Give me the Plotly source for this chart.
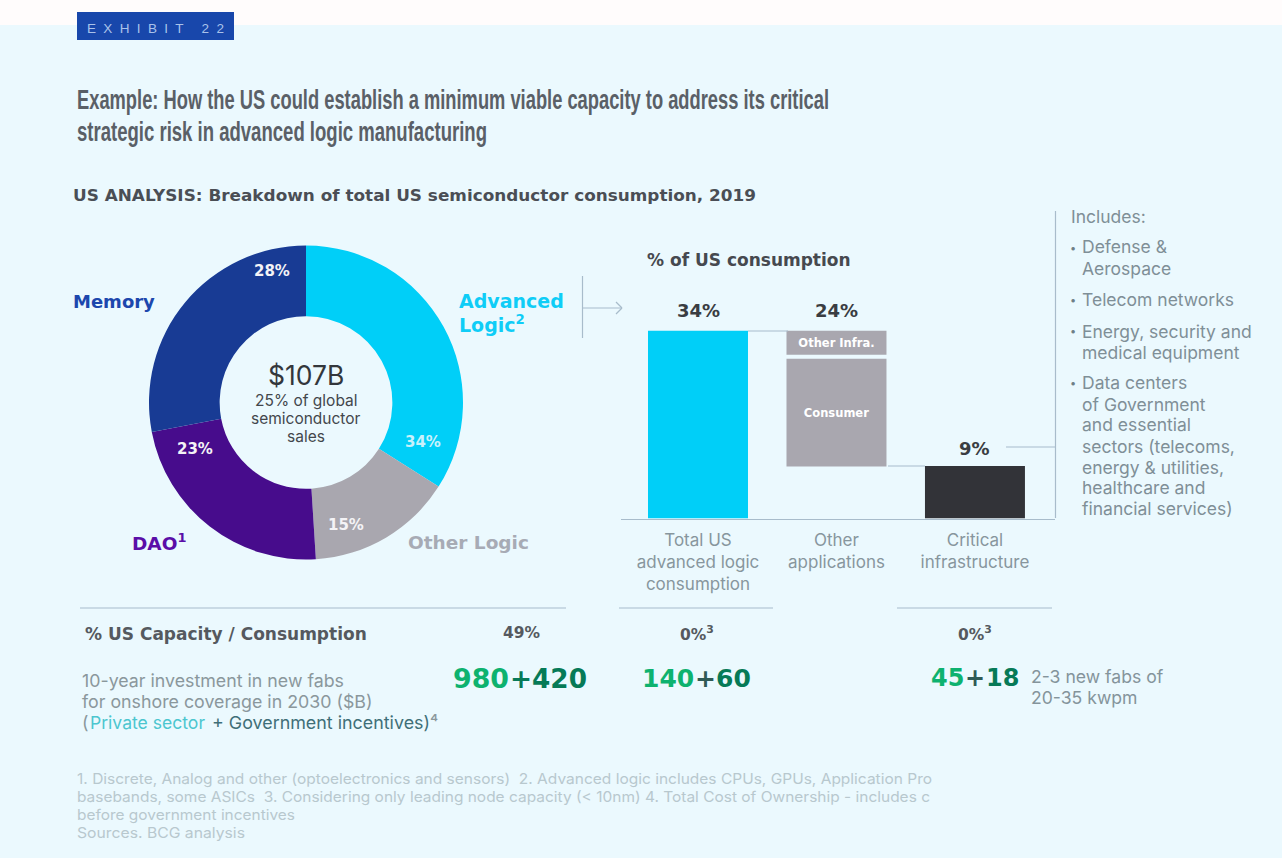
import html
import json
import plotly.graph_objects as go

W, H = 1282, 858
BG = "#ebf9fe"
SANS = "Inter"
BOLD = "DejaVu Sans"

# ---- data ----
donut_labels = ["Advanced Logic", "Other Logic", "DAO", "Memory"]
donut_values = [34, 15, 23, 28]
donut_colors = ["#00cff8", "#a9a7af", "#470c8c", "#183b94"]

bar_categories = ["Total US<br>advanced logic<br>consumption", "Other<br>applications", "Critical<br>infrastructure"]
segment_category = [bar_categories[0], bar_categories[1], bar_categories[1], bar_categories[2]]
segment_names = [" ", "Other Infra.", "Consumer", " "]
segment_values = [34, 4.4, 19.5, 9.5]
segment_bases = [0, 29.6, 9.4, 0]
segment_colors = ["#00cff8", "#a9a7af", "#a9a7af", "#323338"]
total_heights = [34, 34, 9.5]
total_labels = ["34%", "24%", "9%"]


def X(p):
    return p / W


def Y(p):
    return 1 - p / H


fig = go.Figure()

fig.add_trace(go.Pie(
    labels=donut_labels, values=donut_values, sort=False, direction="clockwise",
    rotation=0, hole=0.55, textinfo="none", hoverinfo="label+percent",
    marker=dict(colors=donut_colors, line=dict(width=0)),
    domain=dict(x=[X(149), X(463)], y=[Y(559.5), Y(245.5)]),
    showlegend=False,
))

fig.add_trace(go.Bar(
    x=segment_category, y=segment_values, base=segment_bases,
    width=0.722, marker=dict(color=segment_colors, line=dict(width=0)),
    text=segment_names, textposition="inside", insidetextanchor="middle", textangle=0,
    insidetextfont=dict(family=BOLD, size=11.5, color="#ffffff", weight="bold"),
    showlegend=False, cliponaxis=False,
))

LINE = "#a8bccb"
shapes = []


def seg(x0, y0, x1, y1, color=LINE, width=1.2):
    shapes.append(dict(type="line", xref="paper", yref="paper", x0=X(x0), x1=X(x1), y0=Y(y0), y1=Y(y1),
                       line=dict(color=color, width=width)))


# page bands
shapes.append(dict(type="rect", xref="paper", yref="paper", x0=0, x1=1, y0=Y(25), y1=1,
                   fillcolor="#fffcfc", line=dict(width=0), layer="below"))
shapes.append(dict(type="rect", xref="paper", yref="paper", x0=X(77), x1=X(234), y0=Y(40), y1=Y(12),
                   fillcolor="#1847ab", line=dict(width=0), layer="below"))

seg(80, 608, 566, 608)
seg(619, 608, 773, 608)
seg(897, 608, 1052, 608)
seg(582.5, 276, 582.5, 338)
seg(583, 308, 622, 308)
seg(616, 302, 622, 308)
seg(616, 314, 622, 308)
seg(1055.5, 211, 1055.5, 518)
seg(1006, 447, 1055, 447)
seg(748, 331, 788, 331)
seg(888, 466, 925, 466)

anns = []
stretch = []


def txt(x, y, s, size=15, color="#7f8f97", family=SANS, weight="normal", anchor="left", fit=None, mode="spacingAndGlyphs"):
    xpos = x - 2 if anchor == "left" else x
    anns.append(dict(xref="paper", yref="paper", x=X(xpos), y=Y(y), text=s, showarrow=False,
                     xanchor=anchor, yanchor="middle", align=anchor,
                     font=dict(family=family, size=size, color=color, weight=weight)))
    if fit:
        stretch.append([html.unescape(s), fit, mode])


def lines(x, ys, texts, fits=None, **kw):
    for i, (y, t) in enumerate(zip(ys, texts)):
        txt(x, y, t, fit=fits[i] if fits else None, **kw)


# header
txt(87, 28, "E X H I B I T \u00a0 2 2", size=13.5, color="#a9c2ea", family="Liberation Sans", fit=137, mode="spacing")
TITLE = dict(size=27, color="#5a6067", family="Liberation Sans", weight="bold")
txt(77, 100, "Example: How the US could establish a minimum viable capacity to address its critical", fit=752, **TITLE)
txt(77, 132, "strategic risk in advanced logic manufacturing", fit=410, **TITLE)
txt(73, 195, "US ANALYSIS: Breakdown of total US semiconductor consumption, 2019",
    size=16.5, color="#4a4e55", family=BOLD, weight="bold", fit=683)

# donut
pct_pos = [(423, 442, "#c9f1fb"), (346, 525, "#f4f3f6"), (195, 449, "#f4f3f6"), (272, 271, "#f4f3f6")]
for (px, py, c), v in zip(pct_pos, donut_values):
    txt(px, py, f"{v}%", size=15, color=c, family=BOLD, weight="bold", anchor="center")
txt(306, 375, "$107B", size=26.5, color="#33373c", anchor="center")
lines(306, [400, 418, 436], ["25% of global", "semiconductor", "sales"], size=15.5, color="#43474c", anchor="center")
txt(73, 302, "Memory", size=18, color="#1c47ad", family=BOLD, weight="bold")
lines(459, [301, 324], ["Advanced", "Logic<sup>2</sup>"], size=19, color="#0fcdf7", family=BOLD, weight="bold")
txt(132, 542, "DAO<sup>1</sup>", size=18.5, color="#5a0ea8", family=BOLD, weight="bold")
txt(408, 542, "Other Logic", size=18.5, color="#a7abb5", family=BOLD, weight="bold")

# bars side
txt(749, 260, "% of US consumption", size=17, color="#46494f", family=BOLD, weight="bold", anchor="center")
for cat, h, lab, shift in zip(bar_categories, total_heights, total_labels, [20, 20, 17]):
    anns.append(dict(xref="x", yref="y", x=cat, y=h, yshift=shift, text=lab, showarrow=False,
                     xanchor="center", yanchor="middle",
                     font=dict(family=BOLD, size=18, color="#3a3d42", weight="bold")))

# includes
LIST = dict(size=17.5, color="#7f8f97")
txt(1071, 216, "Includes:", **LIST)
for y in (248, 300, 331, 383):
    txt(1073, y, "•", size=11, color="#6f7f87", anchor="center")
lines(1082, [247, 268], ["Defense &amp;", "Aerospace"], **LIST)
txt(1082, 300, "Telecom networks", **LIST)
lines(1082, [331, 352], ["Energy, security and", "medical equipment"], **LIST)
lines(1082, [383, 404, 425, 446, 467, 488, 508],
      ["Data centers", "of Government", "and essential", "sectors (telecoms,", "energy &amp; utilities,",
       "healthcare and", "financial services)"], **LIST)

# rows
txt(85, 634, "% US Capacity / Consumption", size=17, color="#55595f", family=BOLD, weight="bold")
txt(522, 633, "49%", size=15.5, color="#55595f", family=BOLD, weight="bold", anchor="center")
txt(697, 633, "0%<sup>3</sup>", size=15.5, color="#55595f", family=BOLD, weight="bold", anchor="center")
txt(975, 633, "0%<sup>3</sup>", size=15.5, color="#55595f", family=BOLD, weight="bold", anchor="center")

INV = dict(size=17.8)
lines(82, [680, 701], ["10-year investment in new fabs", "for onshore coverage in 2030 ($B)"], color="#8a979c", **INV)
txt(82, 722, "(", color="#8a979c", **INV)
txt(90, 722, "Private sector", color="#4cc6cf", fit=115, **INV)
txt(212, 722, "+ Government incentives)", color="#3f6f78", fit=218, **INV)
txt(430, 722, "⁴", color="#8a979c", **INV)

G1, G2, G3 = "#0db26f", "#067a57", "#2f5a55"
NUM = dict(family=BOLD, weight="bold")
txt(453, 678, "980", color=G1, size=27, fit=56, **NUM)
txt(510, 678, "+420", color=G2, size=27, fit=77, **NUM)
txt(642, 678, "140", color=G1, size=25, **NUM)
txt(694.5, 678, "+", color=G3, size=25, **NUM)
txt(716, 678, "60", color=G2, size=25, **NUM)
txt(931, 678, "45", color=G1, size=24, **NUM)
txt(965, 678, "+", color=G3, size=24, **NUM)
txt(986, 678, "18", color=G2, size=24, **NUM)
lines(1031, [676, 697], ["2-3 new fabs of", "20-35 kwpm"], size=17.6, color="#84949b")

# footnotes
lines(77, [779, 797, 815, 833],
      ["1. Discrete, Analog and other (optoelectronics and sensors)  2. Advanced logic includes CPUs, GPUs, Application Pro",
       "basebands, some ASICs  3. Considering only leading node capacity (&lt; 10nm) 4. Total Cost of Ownership - includes c",
       "before government incentives",
       "Sources. BCG analysis"],
      fits=[855, 853, 218, 168], size=14.6, color="#b8c8ce")

fig.update_layout(
    width=W, height=H, margin=dict(l=0, r=0, t=0, b=0, pad=0),
    paper_bgcolor=BG, plot_bgcolor="rgba(0,0,0,0)",
    barmode="overlay", shapes=shapes, annotations=anns,
    xaxis=dict(domain=[X(621), X(1055)], type="category", categoryorder="array", categoryarray=bar_categories,
               range=[-0.556, 2.578], showline=True, linecolor=LINE, linewidth=1.2, showgrid=False, zeroline=False,
               ticks="outside", ticklen=6, tickcolor="rgba(0,0,0,0)",
               tickfont=dict(family=SANS, size=17, color="#87969d"), fixedrange=True),
    yaxis=dict(domain=[Y(518.5), Y(330.5)], range=[0, 34], visible=False, fixedrange=True),
)

post = """
document.body.style.margin='0';
var fits = %s;
var norm = function (s) { return s.replace(/\\s+/g, ' ').trim(); };
document.querySelectorAll('.annotation-text').forEach(function (t) {
  fits.forEach(function (f) {
    if (norm(t.textContent) === norm(f[0])) {
      t.setAttribute('textLength', f[1]);
      t.setAttribute('lengthAdjust', f[2]);
    }
  });
});
""" % json.dumps(stretch)

fig.write_html("out.html", post_script=post, config={"displayModeBar": False})
